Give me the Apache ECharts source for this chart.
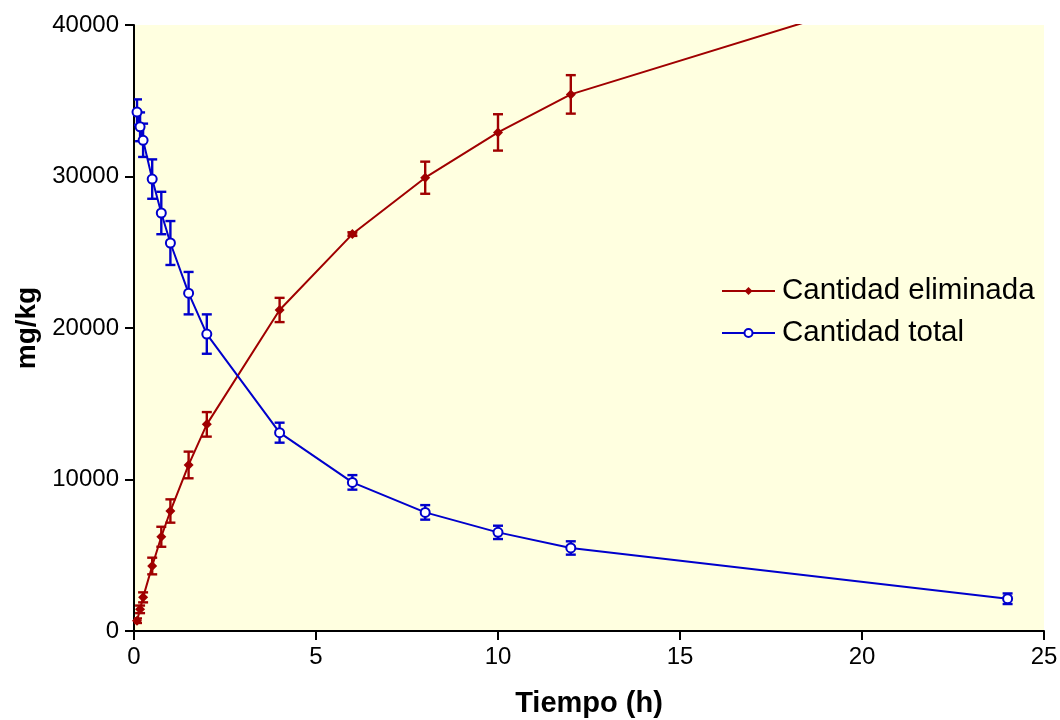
<!DOCTYPE html>
<html>
<head>
<meta charset="utf-8">
<script src="https://cdn.jsdelivr.net/npm/echarts@6/dist/echarts.min.js"></script>
<style>
html,body{margin:0;padding:0;background:#fff;}
#chart{width:1060px;height:720px;}
</style>
</head>
<body>
<div id="chart"></div>
<script>
// Data
const times = [0.083, 0.167, 0.25, 0.5, 0.75, 1, 1.5, 2, 4, 6, 8, 10, 12, 24];
const eliminada = [680, 1430, 2220, 4290, 6220, 7920, 10960, 13640, 21190, 26200, 29920, 32910, 35420, 44300];
const eliminadaErr = [150, 250, 330, 550, 660, 770, 880, 810, 800, 120, 1060, 1200, 1270, 0];
const total = [34250, 33280, 32390, 29830, 27590, 25610, 22300, 19600, 13090, 9810, 7830, 6510, 5480, 2130];
const totalErr = [840, 950, 1100, 1300, 1400, 1450, 1400, 1300, 660, 480, 480, 440, 440, 350];
const xTicks = [0, 5, 10, 15, 20, 25];
const yTicks = [0, 10000, 20000, 30000, 40000];
const seriesNames = ['Cantidad eliminada', 'Cantidad total'];

const RED = '#A00000';
const BLUE = '#0000CC';
const FONT = 'Liberation Sans, Arial, sans-serif';

function pairs(ys){ return times.map((t,i)=>[t, ys[i]]); }
function errData(ys, es){ return times.map((t,i)=>[t, ys[i], es[i]]); }

function errRender(color){
  return function(params, api){
    const x = api.value(0), y = api.value(1), e = api.value(2);
    if (!e) return null;
    const top = api.coord([x, y + e]);
    const bot = api.coord([x, y - e]);
    const hw = 5;
    const style = {stroke: color, lineWidth: 2.4, fill: null};
    return {
      type: 'group',
      children: [
        {type:'line', shape:{x1:top[0], y1:top[1], x2:bot[0], y2:bot[1]}, style: style},
        {type:'line', shape:{x1:top[0]-hw, y1:top[1], x2:top[0]+hw, y2:top[1]}, style: style},
        {type:'line', shape:{x1:bot[0]-hw, y1:bot[1], x2:bot[0]+hw, y2:bot[1]}, style: style}
      ]
    };
  };
}

const chart = echarts.init(document.getElementById('chart'), null, {renderer:'canvas'});
chart.setOption({
  animation: false,
  backgroundColor: '#ffffff',
  grid: {left:134, right:16, top:25, bottom:89, show:true, backgroundColor:'#FFFFE0', borderWidth:0, containLabel:false, outerBoundsMode:'none'},
  legend: {
    orient: 'vertical',
    left: 716, top: 271,
    itemWidth: 53, itemHeight: 10, itemGap: 12,
    data: seriesNames,
    textStyle: {fontFamily: FONT, fontSize: 29.5, color:'#000', padding:[0,0,0,2]}
  },
  xAxis: {
    type: 'value', min: xTicks[0], max: xTicks[xTicks.length-1], interval: 5,
    name: 'Tiempo (h)', nameLocation: 'middle', nameGap: 58,
    nameTextStyle: {fontFamily: FONT, fontSize: 29, fontWeight:'bold', color:'#000'},
    axisLine: {onZero:false, lineStyle:{color:'#000', width:2}},
    axisTick: {show:true, length:9, lineStyle:{color:'#000', width:2}},
    axisLabel: {fontFamily: FONT, fontSize: 24, color:'#000', margin: 14, formatter: v => String(v)},
    splitLine: {show:false}
  },
  yAxis: {
    type: 'value', min: yTicks[0], max: yTicks[yTicks.length-1], interval: 10000,
    name: 'mg/kg', nameLocation: 'middle', nameGap: 89,
    nameTextStyle: {fontFamily: FONT, fontSize: 28, fontWeight:'bold', color:'#000'},
    axisLine: {show:true, onZero:false, lineStyle:{color:'#000', width:2}},
    axisTick: {show:true, length:9, lineStyle:{color:'#000', width:2}},
    axisLabel: {fontFamily: FONT, fontSize: 24, color:'#000', margin: 15, formatter: v => String(v)},
    splitLine: {show:false}
  },
  series: [
    {
      type:'custom', name:'err1', data: errData(eliminada, eliminadaErr),
      renderItem: errRender(RED), clip: true, z: 2, silent: true,
      encode:{x:0, y:1}
    },
    {
      type:'custom', name:'err2', data: errData(total, totalErr),
      renderItem: errRender(BLUE), clip: true, z: 2, silent: true,
      encode:{x:0, y:1}
    },
    {
      type:'line', name: seriesNames[0], data: pairs(eliminada), clip: true, z: 3,
      symbol:'diamond', symbolSize: 10, showAllSymbol: true,
      lineStyle:{color:RED, width:2},
      itemStyle:{color:RED, borderColor:RED, borderWidth:0}
    },
    {
      type:'line', name: seriesNames[1], data: pairs(total), clip: true, z: 3,
      symbol:'circle', symbolSize: 9, showAllSymbol: true,
      lineStyle:{color:BLUE, width:2},
      itemStyle:{color:'#ffffff', borderColor:BLUE, borderWidth:2}
    }
  ]
});
</script>
</body>
</html>
